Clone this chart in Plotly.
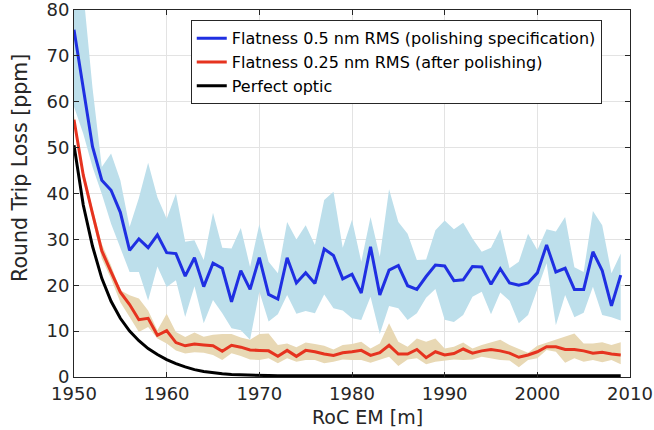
import plotly.graph_objects as go

years = list(range(1950, 2010))

blue_mean = [75.7, 62.5, 50.2, 42.9, 40.7, 35.9, 27.6, 30.1, 28.2, 31.0,
             27.1, 26.9, 22.0, 26.0, 19.7, 24.8, 23.7, 16.4, 23.2, 19.1,
             26.0, 18.0, 17.0, 26.0, 20.5, 22.7, 20.4, 27.9, 26.5, 21.4,
             22.4, 18.3, 28.4, 17.9, 23.3, 24.3, 19.9, 19.1, 21.9, 24.4,
             24.2, 21.0, 21.2, 24.1, 24.0, 20.2, 23.6, 20.5, 20.0, 20.5,
             22.7, 28.8, 22.9, 23.7, 19.1, 19.1, 27.3, 23.2, 15.5, 22.2]
blue_upper = [95.0, 84.0, 63.0, 45.8, 48.7, 42.9, 32.7, 39.0, 46.7, 39.2,
              34.5, 40.0, 29.5, 29.8, 25.5, 35.8, 28.2, 28.0, 32.5, 24.0,
              33.3, 25.1, 22.6, 33.8, 30.0, 33.1, 28.8, 38.6, 40.4, 28.2,
              34.3, 25.1, 34.9, 26.2, 40.9, 33.8, 31.2, 25.5, 25.6, 32.0,
              34.1, 32.2, 33.6, 30.2, 27.3, 28.2, 32.2, 23.7, 25.1, 31.2,
              27.7, 32.2, 31.7, 34.9, 23.9, 22.9, 36.2, 33.1, 22.6, 26.9]
blue_lower = [58.9, 53.0, 45.8, 39.9, 33.4, 28.3, 22.9, 22.9, 16.7, 24.1,
              19.6, 21.1, 13.1, 19.8, 11.7, 16.8, 13.9, 10.6, 10.2, 8.1,
              18.6, 12.1, 13.7, 17.9, 13.8, 14.4, 13.9, 18.0, 15.0, 14.5,
              12.8, 12.4, 17.5, 9.4, 15.5, 15.0, 12.4, 13.9, 17.3, 19.2,
              12.5, 12.0, 13.5, 17.5, 18.6, 13.7, 18.4, 16.6, 11.7, 13.5,
              19.3, 24.8, 11.3, 17.9, 13.0, 14.0, 19.7, 13.5, 13.0, 12.3]

red_mean = [56.1, 44.0, 35.6, 27.5, 22.9, 18.5, 15.8, 12.5, 12.8, 9.1,
            10.1, 7.5, 6.8, 7.2, 7.0, 6.8, 5.6, 6.9, 6.5, 5.9,
            5.8, 5.7, 4.5, 5.8, 4.5, 5.8, 5.5, 5.0, 4.7, 5.3,
            5.5, 5.8, 4.7, 5.3, 6.9, 5.0, 5.0, 6.0, 4.2, 5.5,
            4.8, 5.1, 6.1, 5.2, 5.7, 6.0, 5.7, 5.2, 4.3, 4.8,
            5.5, 6.6, 6.6, 6.0, 6.0, 5.7, 5.2, 5.4, 5.0, 4.8]
red_upper = [57.0, 45.0, 36.8, 29.0, 24.3, 18.9, 17.8, 17.1, 14.5, 10.2,
             13.8, 9.8, 8.7, 9.7, 8.8, 9.2, 9.4, 9.4, 8.6, 8.1,
             9.4, 9.5, 7.0, 7.3, 6.5, 7.5, 7.2, 6.8, 6.0, 7.0,
             7.2, 7.7, 6.2, 7.3, 11.7, 7.7, 6.6, 8.4, 7.7, 8.4,
             6.2, 6.6, 7.5, 6.2, 7.0, 7.5, 8.1, 7.0, 6.2, 5.3,
             6.8, 7.5, 8.1, 8.8, 9.5, 7.3, 7.3, 7.6, 7.0, 7.6]
red_lower = [55.2, 43.0, 34.5, 25.8, 21.4, 16.3, 13.1, 9.8, 10.9, 8.4,
             7.3, 5.8, 5.1, 5.4, 5.3, 4.8, 3.7, 5.2, 4.6, 3.8,
             3.7, 4.1, 3.0, 4.1, 3.3, 3.7, 3.7, 3.0, 3.3, 3.8,
             3.7, 3.7, 3.1, 3.7, 4.4, 2.4, 3.8, 4.1, 2.8, 3.3,
             3.6, 3.8, 3.7, 3.8, 4.4, 4.1, 3.7, 3.6, 2.1, 3.7,
             4.1, 5.9, 5.5, 3.1, 4.1, 3.3, 3.7, 3.2, 3.7, 2.8]

black_perfect = [50.5, 37.5, 28.5, 21.5, 16.5, 12.8, 10.0, 7.9, 6.2, 4.9,
                 3.8, 2.9, 2.2, 1.6, 1.2, 0.9, 0.7, 0.55, 0.45, 0.38,
                 0.33, 0.30, 0.28, 0.27, 0.26, 0.25, 0.25, 0.25, 0.25, 0.25,
                 0.25, 0.25, 0.25, 0.25, 0.25, 0.25, 0.25, 0.25, 0.25, 0.25,
                 0.25, 0.25, 0.25, 0.25, 0.25, 0.25, 0.25, 0.25, 0.25, 0.25,
                 0.25, 0.25, 0.25, 0.25, 0.25, 0.25, 0.25, 0.25, 0.25, 0.25]

legend_names = ["Flatness 0.5 nm RMS (polishing specification)",
                "Flatness 0.25 nm RMS (after polishing)",
                "Perfect optic"]
x_ticks = [1950, 1960, 1970, 1980, 1990, 2000, 2010]
y_ticks = [0, 10, 20, 30, 40, 50, 60, 70, 80]

BLUE = "#1f2fe2"
RED = "#e6331f"
BAND_BLUE = "#bddfeb"
BAND_TAN = "#e8d8b4"
TXT = "#262626"
FONT = "DejaVu Sans"

fig = go.Figure()
fig.add_trace(go.Scatter(x=years, y=blue_lower, mode="lines", line=dict(width=0),
                         showlegend=False, hoverinfo="skip"))
fig.add_trace(go.Scatter(x=years, y=blue_upper, mode="lines", line=dict(width=0),
                         fill="tonexty", fillcolor=BAND_BLUE, showlegend=False, hoverinfo="skip"))
fig.add_trace(go.Scatter(x=years, y=red_lower, mode="lines", line=dict(width=0),
                         showlegend=False, hoverinfo="skip"))
fig.add_trace(go.Scatter(x=years, y=red_upper, mode="lines", line=dict(width=0),
                         fill="tonexty", fillcolor=BAND_TAN, showlegend=False, hoverinfo="skip"))
fig.add_trace(go.Scatter(x=years, y=blue_mean, mode="lines", name=legend_names[0],
                         line=dict(color=BLUE, width=3)))
fig.add_trace(go.Scatter(x=years, y=red_mean, mode="lines", name=legend_names[1],
                         line=dict(color=RED, width=3)))
fig.add_trace(go.Scatter(x=years, y=black_perfect, mode="lines", name=legend_names[2],
                         line=dict(color="black", width=3)))

axis_common = dict(
    showgrid=True, gridcolor="#e3e3e3", gridwidth=1,
    showline=True, linecolor=TXT, linewidth=1, mirror="allticks",
    ticks="inside", ticklen=5, tickcolor=TXT, tickwidth=1,
    tickfont=dict(family=FONT, size=18, color=TXT),
    zeroline=False, automargin=False, ticklabeloverflow="allow",
)
fig.update_xaxes(range=[1950, 2010], tickvals=x_ticks, **axis_common)
fig.update_yaxes(range=[0, 80], tickvals=y_ticks, **axis_common)

fig.update_layout(
    width=654, height=430,
    margin=dict(l=74, r=24, t=10, b=53),
    paper_bgcolor="white", plot_bgcolor="white",
    font=dict(family=FONT, color=TXT),
    legend=dict(x=0.21, y=0.972, xanchor="left", yanchor="top",
                bgcolor="white", bordercolor=TXT, borderwidth=1,
                font=dict(family=FONT, size=16, color="black"),
                tracegroupgap=0, traceorder="normal"),
    annotations=[
        dict(text="RoC EM [m]", xref="paper", yref="paper", x=0.528, y=-0.11,
             xanchor="center", yanchor="middle", showarrow=False,
             font=dict(family=FONT, size=19, color=TXT)),
        dict(text="Round Trip Loss [ppm]", xref="paper", yref="paper", x=-0.097, y=0.57,
             xanchor="center", yanchor="middle", showarrow=False, textangle=-90,
             font=dict(family=FONT, size=20.5, color=TXT)),
    ],
)

fig.write_html("out.html", config={"displayModeBar": False},
               post_script="document.body.style.margin='0px';document.body.style.overflow='hidden';")
